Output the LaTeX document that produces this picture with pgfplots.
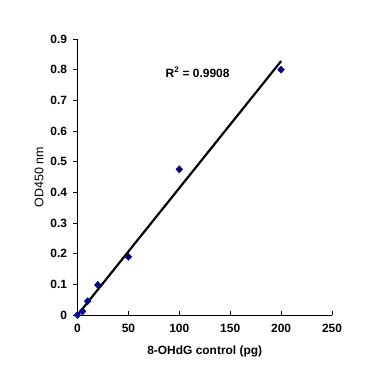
\documentclass[border=0pt]{standalone}
\usepackage{pgfplots}
\pgfplotsset{compat=1.18}
\usepackage{fontspec}
\setmainfont{Liberation Sans}
\definecolor{navy}{HTML}{000080}
\begin{document}
\begin{tikzpicture}[x=1bp,y=1bp]
\useasboundingbox (-77.5bp,-58bp) rectangle (299.5bp,315bp);
\begin{axis}[
  at={(0,0)}, anchor=south west,
  scale only axis,
  width=254.5bp, height=276bp,
  xmin=0, xmax=250, ymin=0, ymax=0.9,
  axis x line=bottom, axis y line=left,
  axis line style={-, line width=0.6pt},
  xtick={0,50,100,150,200,250},
  ytick={0,0.1,0.2,0.3,0.4,0.5,0.6,0.7,0.8,0.9},
  xtick align=inside, ytick align=outside,
  major tick length=4bp,
  tick style={black, line width=0.6pt},
  /pgf/number format/assume math mode=true,
  yticklabel style={/pgf/number format/fixed, /pgf/number format/precision=1, font=\fontsize{12}{14}\selectfont\bfseries, xshift=-3bp},
  xticklabel style={font=\fontsize{12}{14}\selectfont\bfseries, yshift=-6bp},
  scaled y ticks=false,
  xlabel={8-OHdG control (pg)},
  ylabel={OD450 nm},
  xlabel style={font=\fontsize{12}{14}\selectfont\bfseries, yshift=-6bp},
  ylabel style={font=\fontsize{12.5}{14}\selectfont, yshift=0bp},
  clip=false,
]
\addplot[only marks, mark=diamond*, mark size=3.6bp, mark options={xscale=1.25}, color=navy] coordinates {
  (0,0) (5,0.012) (10,0.045) (20,0.098) (50,0.19) (100,0.475) (200,0.80)
};
\addplot[black, line width=2.2pt] coordinates {(0,0) (200,0.828)};
\node[font=\fontsize{12}{14}\selectfont\bfseries] at (axis cs:118,0.792) {R\textsuperscript{2} = 0.9908};
\end{axis}
\end{tikzpicture}
\end{document}
